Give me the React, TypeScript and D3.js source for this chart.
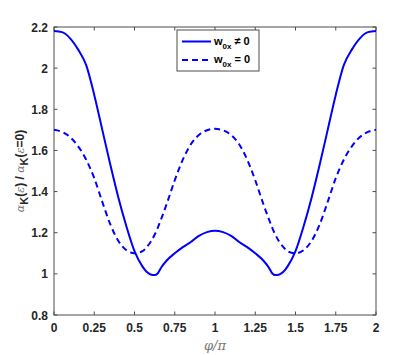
import React, { useEffect, useRef } from 'react';
import * as d3 from 'd3';

// phi / pi
const phi = [
  0, 0.05, 0.1, 0.15, 0.2, 0.25, 0.3, 0.35, 0.4, 0.45, 0.5, 0.55, 0.575, 0.6, 0.625, 0.645, 0.665,
  0.7, 0.75, 0.8, 0.85, 0.9, 0.95, 1.0,
  1.05, 1.1, 1.15, 1.2, 1.25, 1.3, 1.335, 1.355, 1.375, 1.4, 1.425, 1.45, 1.5, 1.55, 1.6, 1.65,
  1.7, 1.75, 1.8, 1.85, 1.9, 1.95, 2.0,
];

// w0x != 0
const solid = [
  2.18, 2.175, 2.145, 2.09, 2.015, 1.87, 1.7, 1.53, 1.37, 1.23, 1.11, 1.035, 1.01, 0.997, 0.994, 1.003, 1.03,
  1.065, 1.1, 1.13, 1.155, 1.185, 1.203, 1.21,
  1.203, 1.185, 1.155, 1.13, 1.1, 1.065, 1.03, 1.003, 0.994, 0.997, 1.01, 1.035, 1.11, 1.23, 1.37, 1.53,
  1.7, 1.87, 2.015, 2.09, 2.145, 2.175, 2.18,
];

// w0x = 0
const dashed = [
  1.7, 1.69, 1.665, 1.62, 1.555, 1.465, 1.35, 1.24, 1.16, 1.115, 1.1, 1.11, 1.13, 1.155, 1.19, 1.225, 1.265,
  1.34, 1.455, 1.555, 1.63, 1.675, 1.698, 1.705,
  1.698, 1.675, 1.63, 1.555, 1.455, 1.34, 1.265, 1.225, 1.19, 1.155, 1.13, 1.11, 1.1, 1.115, 1.16, 1.24,
  1.35, 1.465, 1.555, 1.62, 1.665, 1.69, 1.7,
];

const xTicks = [0, 0.25, 0.5, 0.75, 1, 1.25, 1.5, 1.75, 2];
const yTicks = [0.8, 1, 1.2, 1.4, 1.6, 1.8, 2, 2.2];

const App = () => {
  const svgRef = useRef<SVGSVGElement>(null);

  useEffect(() => {
    document.body.style.margin = '0';
    const svg = d3.select(svgRef.current);
    svg.selectAll('*').remove();

    const left = 54, right = 376, top = 27, bottom = 315;
    const x = d3.scaleLinear().domain([0, 2]).range([left, right]);
    const y = d3.scaleLinear().domain([0.8, 2.2]).range([bottom, top]);
    const axisColor = '#4d4d4d';
    const font = 'Liberation Sans, Arial, sans-serif';

    // frame
    svg.append('rect')
      .attr('x', left).attr('y', top)
      .attr('width', right - left).attr('height', bottom - top)
      .attr('fill', 'white')
      .attr('stroke', axisColor).attr('stroke-width', 1);

    // ticks (inside, all four sides)
    const tl = 3.5;
    xTicks.forEach(t => {
      svg.append('line').attr('x1', x(t)).attr('x2', x(t)).attr('y1', bottom).attr('y2', bottom - tl)
        .attr('stroke', axisColor);
      svg.append('line').attr('x1', x(t)).attr('x2', x(t)).attr('y1', top).attr('y2', top + tl)
        .attr('stroke', axisColor);
      svg.append('text').attr('x', x(t)).attr('y', bottom + 17)
        .attr('text-anchor', 'middle')
        .style('font-family', font).style('font-size', '12px').style('font-weight', 'bold')
        .attr('fill', '#262626')
        .text(String(t));
    });
    yTicks.forEach(t => {
      svg.append('line').attr('x1', left).attr('x2', left + tl).attr('y1', y(t)).attr('y2', y(t))
        .attr('stroke', axisColor);
      svg.append('line').attr('x1', right).attr('x2', right - tl).attr('y1', y(t)).attr('y2', y(t))
        .attr('stroke', axisColor);
      svg.append('text').attr('x', left - 6).attr('y', y(t) + 4.5)
        .attr('text-anchor', 'end')
        .style('font-family', font).style('font-size', '12px').style('font-weight', 'bold')
        .attr('fill', '#262626')
        .text(String(t));
    });

    const line = d3.line<number>()
      .x((_, i) => x(phi[i]))
      .y(d => y(d))
      .curve(d3.curveMonotoneX);

    svg.append('path')
      .datum(solid)
      .attr('fill', 'none')
      .attr('stroke', '#0000ff')
      .attr('stroke-width', 2)
      .attr('d', line);

    svg.append('path')
      .datum(dashed)
      .attr('fill', 'none')
      .attr('stroke', '#0000ff')
      .attr('stroke-width', 2)
      .attr('stroke-dasharray', '6,4')
      .attr('d', line);

    // legend
    const lg = svg.append('g');
    lg.append('rect')
      .attr('x', 177).attr('y', 30).attr('width', 82).attr('height', 41)
      .attr('fill', 'white').attr('stroke', axisColor).attr('stroke-width', 1);
    const rows = [
      { dash: null, sym: '\u2260 0', yy: 41.5 },
      { dash: '6,4', sym: '= 0', yy: 60 },
    ];
    rows.forEach(r => {
      const l = lg.append('line')
        .attr('x1', 182).attr('x2', 211).attr('y1', r.yy).attr('y2', r.yy)
        .attr('stroke', '#0000ff').attr('stroke-width', 2);
      if (r.dash) l.attr('stroke-dasharray', r.dash);
      const t = lg.append('text')
        .attr('x', 214).attr('y', r.yy + 3)
        .style('font-family', font).style('font-size', '11px').style('font-weight', 'bold')
        .attr('fill', '#000');
      t.append('tspan').text('w');
      t.append('tspan').attr('dy', 4).style('font-size', '8px').text('0x');
      t.append('tspan').attr('dy', -4).attr('dx', 3).text(r.sym);
    });

    // y label
    const yl = svg.append('text')
      .attr('transform', `translate(24, ${(top + bottom) / 2}) rotate(-90)`)
      .attr('text-anchor', 'middle')
      .style('font-size', '12px')
      .attr('fill', '#262626');
    const greek = (s: string) => yl.append('tspan')
      .style('font-family', 'DejaVu Serif, serif').style('font-style', 'italic')
      .attr('fill', '#777').style('font-size', '11px').text(s);
    const bold = (s: string, dy = 0) => yl.append('tspan')
      .style('font-family', font).style('font-weight', 'bold')
      .attr('dy', dy).text(s);
    greek('\u03b1');
    bold('K', 4).style('font-size', '11px');
    bold('(', -4);
    greek('\u03b5');
    bold(') / ');
    greek('\u03b1');
    bold('K', 4).style('font-size', '11px');
    bold('(', -4);
    greek('\u03b5');
    bold('=0)');

    // x label
    svg.append('text')
      .attr('x', (left + right) / 2).attr('y', 350)
      .attr('text-anchor', 'middle')
      .style('font-family', 'DejaVu Serif, serif').style('font-style', 'italic')
      .style('font-size', '13px')
      .attr('fill', '#777')
      .text('\u03c6/\u03c0');
  }, []);

  return (
    <div style={{ position: 'absolute', left: 0, top: 0 }}>
      <svg ref={svgRef} width={415} height={355} style={{ display: 'block', background: 'white' }}></svg>
    </div>
  );
};

export default App;
